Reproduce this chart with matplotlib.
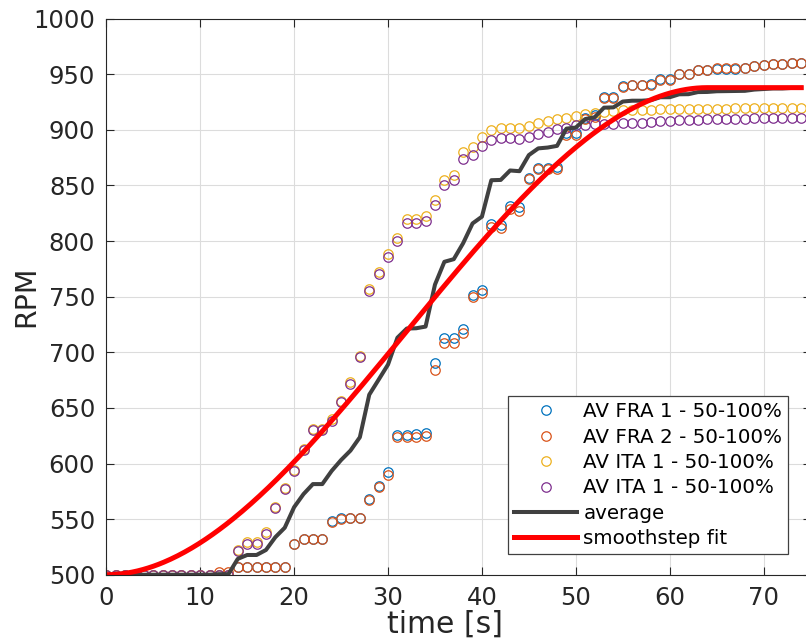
import matplotlib
matplotlib.use('Agg')
import matplotlib.pyplot as plt
import numpy as np

# rpm ramp 50 -> 100 %, one sample per second
t = np.arange(0, 75)

fra1 = [500]*14 + [507]*6 + [528, 532.5, 532.5, 532.5, 548, 551, 551, 551, 568, 580,
        592, 626, 626, 626.5, 627, 690, 712.5, 712.5, 721, 751.5,
        756, 815.5, 814.5, 831.5, 830.5, 856.5, 866, 866, 866.5, 897,
        897, 911, 913, 929.5, 929.5, 939.5, 940.5, 940.5, 941, 946,
        946, 950.5, 950.5, 954, 954, 955, 955, 955, 955.5, 957.5,
        958.5, 959, 959, 960, 960]
fra2 = [500]*12 + [502, 502] + [507]*6 + [528, 532.5, 532.5, 532.5, 547.5, 550.5, 551, 551, 567, 579,
        590, 623.5, 623.5, 624, 624.5, 684, 708.5, 708.5, 717.5, 750,
        753, 813, 811.5, 828.5, 827.5, 855.5, 864.5, 864.5, 865, 895,
        895, 910, 912, 929, 929, 939, 940, 940, 940.5, 945,
        945, 950, 950, 954, 954, 955.5, 955.5, 955.5, 955.5, 957.5,
        958, 959, 959, 960, 960]
ita1a = [500]*14 + [522, 529, 529, 538, 561, 578, 594, 613, 631, 631,
         640, 656, 673, 697, 757, 772, 788.5, 803, 819.5, 819.5,
         822.5, 837, 854.5, 859.5, 880.5, 884.5, 893.5, 899.5, 901.5, 901.5,
         901.5, 903.5, 906.5, 908, 910, 911, 912.5, 914, 915.5, 916.5,
         917, 917.5, 918, 918, 918, 918.5, 918.5, 918.5, 919, 919,
         919, 919, 919, 919.5, 919.5, 919.5, 920, 920, 920, 920, 920]
ita1b = [500]*14 + [521, 528, 528, 537, 560, 577, 593, 612, 630, 630,
         638, 655, 671.5, 695.5, 755.5, 770.5, 785.5, 800, 816.5, 816.5,
         818.5, 832.5, 850, 854.5, 873.5, 877.5, 885.5, 891, 892.5, 892.5,
         892, 894, 896.5, 898, 901, 901.5, 904, 904, 905, 905,
         905.5, 906, 906.5, 906.5, 907.5, 908, 908, 909, 909, 909,
         909.5, 909.5, 910, 910, 910, 910.5, 910.5, 911, 911, 911, 911]

labels = ['AV FRA 1 - 50-100%', 'AV FRA 2 - 50-100%',
          'AV ITA 1 - 50-100%', 'AV ITA 1 - 50-100%']
colors = ['#0072BD', '#D95319', '#EDB120', '#7E2F8E']

# smoothstep fit parameters
fit_t0, fit_t1 = 0.0, 64.0
fit_lo, fit_hi = 500.0, 938.0

runs = np.array([fra1, fra2, ita1a, ita1b], dtype=float)
avg = runs.mean(axis=0)

tf = np.linspace(0, 74, 400)
s = np.clip((tf - fit_t0) / (fit_t1 - fit_t0), 0, 1)
fit = fit_lo + (fit_hi - fit_lo) * (3*s**2 - 2*s**3)

fig = plt.figure(figsize=(8.06, 6.4), dpi=100)
ax = fig.add_axes([0.1319, 0.102, 0.8738, 0.8688])

for y, c, lab in zip(runs, colors, labels):
    ax.plot(t, y, 'o', mfc='none', mec=c, ms=6.8, mew=0.9, label=lab)
ax.plot(t, avg, color='#404040', lw=2.9, label='average')
ax.plot(tf, fit, color='#FF0000', lw=3.6, label='smoothstep fit')

ax.set_xlim(0, 75)
ax.set_ylim(500, 1000)
ax.set_xticks(np.arange(0, 80, 10))
ax.set_yticks(np.arange(500, 1001, 50))
ax.grid(True, color='#dcdcdc', lw=0.8)
ax.set_axisbelow(True)
ax.tick_params(direction='in', length=6, width=0.8, colors='#262626',
               labelsize=17.5, top=True, right=True, pad=8)
for sp in ax.spines.values():
    sp.set_color('#262626')
    sp.set_linewidth(0.8)

ax.set_xlabel('time [s]', fontsize=21.5, color='#262626')
ax.set_ylabel('RPM', fontsize=20.5, color='#262626')
ax.xaxis.set_label_coords(0.481, -0.062, transform=ax.transAxes)
ax.yaxis.set_label_coords(-0.094, 0.5, transform=ax.transAxes)
ax.xaxis.label.set_va('top')

leg = ax.legend(loc='lower right', bbox_to_anchor=(0.9814 * 74 / 75, 0.037),
                fontsize=14.3, frameon=True, fancybox=False, framealpha=1,
                edgecolor='#404040', borderaxespad=0, borderpad=0.3,
                labelspacing=0.32, handlelength=3.2, handletextpad=0.3,
                numpoints=1)
leg.get_frame().set_linewidth(0.9)

fig.savefig('out.png', dpi=100)
